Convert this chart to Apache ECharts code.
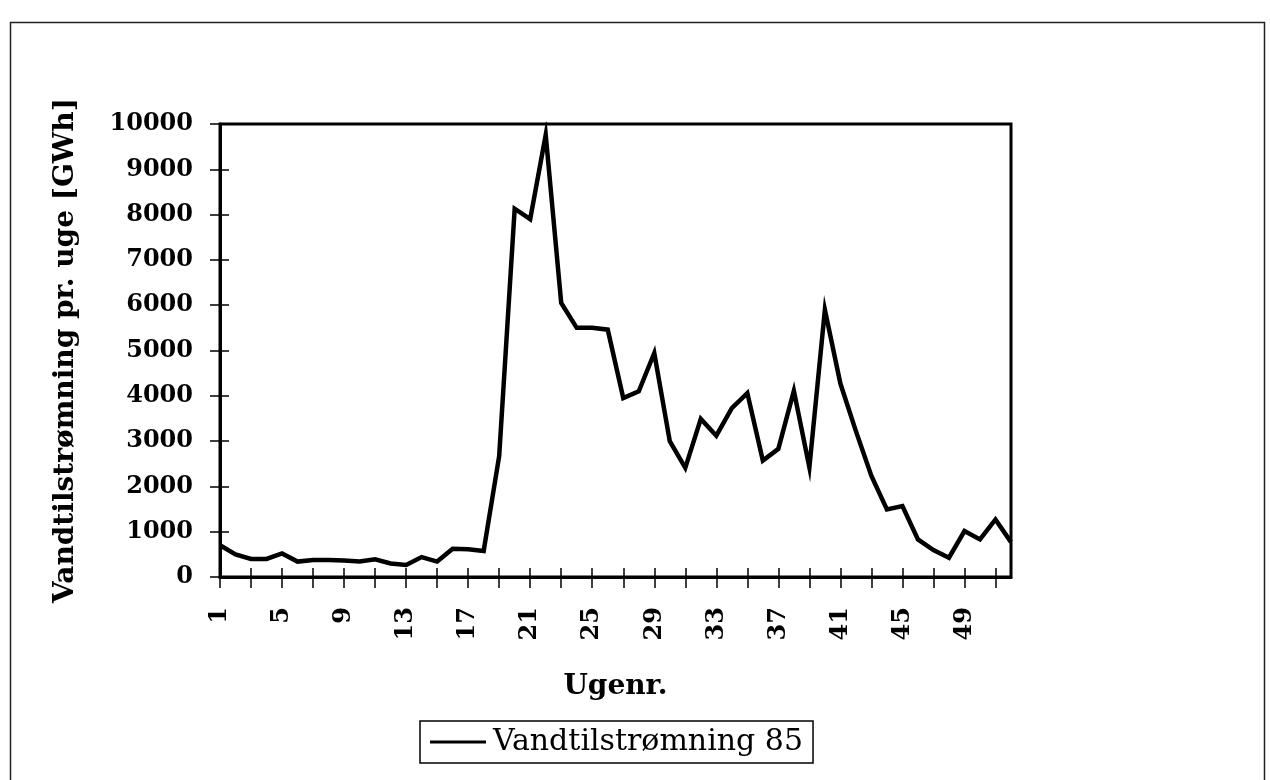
<!DOCTYPE html>
<html>
<head>
<meta charset="utf-8">
<script src="https://cdn.jsdelivr.net/npm/echarts@6/dist/echarts.min.js"></script>
<style>html,body{margin:0;padding:0;background:#fff;}#c{width:1270px;height:780px;}</style>
</head>
<body>
<div id="c"></div>
<script>
const weeks = [];
for (let i = 1; i <= 52; i++) weeks.push(String(i));
const inflow85 = [700,500,400,400,520,340,375,375,365,345,390,300,265,440,340,625,610,575,2670,8130,7900,9760,6050,5500,5500,5460,3950,4100,4945,3000,2410,3490,3120,3730,4060,2570,2830,4110,2420,5900,4270,3220,2230,1490,1565,830,595,425,1015,830,1270,770];
const seriesName = 'Vandtilstrømning 85';
const yTitle = 'Vandtilstrømning pr. uge [GWh]';
const xTitle = 'Ugenr.';

const FONT = '"DejaVu Serif", "Liberation Serif", serif';
const chart = echarts.init(document.getElementById('c'), null, {renderer: 'canvas'});
chart.setOption({
  animation: false,
  backgroundColor: '#fff',
  graphic: [{
    type: 'rect', left: 8, top: 20, silent: true,
    shape: {x: 0, y: 0, width: 1254, height: 780},
    style: {fill: 'none', stroke: '#222', lineWidth: 1.5}
  }],
  grid: {left: 220, right: 259, top: 124, bottom: 203, show: true, borderColor: '#000', borderWidth: 3, backgroundColor: 'transparent'},
  legend: {
    data: [seriesName], left: 420, top: 721, orient: 'horizontal',
    borderColor: '#000', borderWidth: 1.5, padding: [6, 10, 6, 10],
    icon: 'rect', itemWidth: 56, itemHeight: 3, itemGap: 4,
    textStyle: {fontFamily: FONT, fontSize: 30, color: '#000', padding: [0, 0, 0, 2]}
  },
  xAxis: [{
    type: 'category', data: weeks, boundaryGap: false,
    name: xTitle, nameLocation: 'middle', nameGap: 96,
    nameTextStyle: {fontFamily: FONT, fontSize: 28, fontWeight: 'bold', color: '#000'},
    axisLine: {lineStyle: {color: '#000', width: 3}},
    axisTick: {interval: 1, length: 11, lineStyle: {color: '#000', width: 1.5}},
    axisLabel: {interval: 3, rotate: 90, margin: 30, fontFamily: FONT, fontSize: 24, fontWeight: 'bold', color: '#000'}
  }, {
    type: 'category', data: weeks, boundaryGap: false, position: 'bottom',
    axisLine: {show: false},
    axisTick: {interval: 1, inside: true, length: 9, lineStyle: {color: '#000', width: 1.5}},
    axisLabel: {show: false}
  }],
  yAxis: [{
    type: 'value', min: 0, max: 10000, interval: 1000,
    name: yTitle, nameLocation: 'middle', nameGap: 140,
    nameTextStyle: {fontFamily: FONT, fontSize: 28, fontWeight: 'bold', color: '#000'},
    splitLine: {show: false},
    axisLine: {show: true, lineStyle: {color: '#000', width: 3}},
    axisTick: {show: true, length: 10, lineStyle: {color: '#000', width: 1.5}},
    axisLabel: {margin: 27, fontFamily: FONT, fontSize: 24, fontWeight: 'bold', color: '#000', formatter: function (v) { return String(v); }}
  }, {
    type: 'value', min: 0, max: 10000, interval: 1000, position: 'left',
    splitLine: {show: false},
    axisLine: {show: false},
    axisTick: {show: true, inside: true, length: 9, lineStyle: {color: '#000', width: 1.5}},
    axisLabel: {show: false}
  }],
  series: [{
    name: seriesName, type: 'line', data: inflow85, symbol: 'none',
    xAxisIndex: 0, yAxisIndex: 0,
    lineStyle: {color: '#000', width: 4.5, join: 'miter'},
    itemStyle: {color: '#000'}
  }]
});
</script>
</body>
</html>
